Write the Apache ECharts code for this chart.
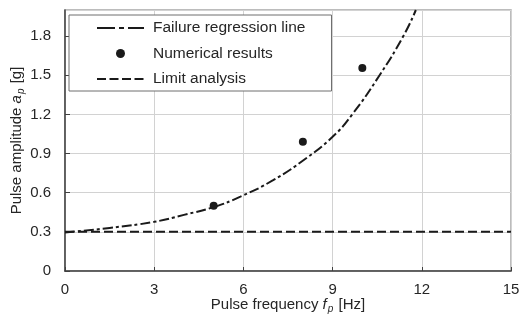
<!DOCTYPE html>
<html>
<head>
<meta charset="utf-8">
<script src="https://cdn.jsdelivr.net/npm/echarts@6/dist/echarts.min.js"></script>
<style>
  html, body { margin: 0; padding: 0; background: #fff; }
  #main { width: 521px; height: 318px; }
</style>
</head>
<body>
<div id="main"></div>
<script>
// values
var regressionFreq = [0, 1.5, 3, 4, 5, 5.9, 7, 8.1, 9, 9.66, 10.58, 11.38, 11.8]
var regressionAmp = [0.295, 0.33, 0.377, 0.43, 0.49, 0.57, 0.696, 0.862, 1.028, 1.2, 1.5, 1.8, 2.0]
var numericalFreq = [5, 8, 10]
var numericalAmp = [0.5, 0.99, 1.556]
var limitFreq = [0, 15]
var limitAmp = [0.3, 0.3]
var seriesNames = ['Failure regression line', 'Numerical results', 'Limit analysis']

function pairs(xs, ys) {
  return xs.map(function (x, i) { return [x, ys[i]] })
}

var font = 'Liberation Sans, Arial, sans-serif'
var textColor = '#262626'
var axisColor = '#404040'
var markColor = '#1a1a1a'

var nameRich = {
  n: { fontSize: 15, color: textColor, fontFamily: font, lineHeight: 18 },
  i: { fontSize: 15, color: textColor, fontFamily: font, fontStyle: 'italic', lineHeight: 18 },
  s: { fontSize: 10, color: textColor, fontFamily: font, fontStyle: 'italic', verticalAlign: 'bottom', padding: [0, 1, 0, 1] }
}

var chart = echarts.init(document.getElementById('main'), null, { renderer: 'canvas' })

var option = {
  backgroundColor: '#fff',
  animation: false,
  textStyle: { fontFamily: font },
  grid: {
    left: 65, right: 10, top: 10, bottom: 47,
    outerBoundsMode: 'none',
    containLabel: false,
    show: true, borderColor: '#a6a6a6', borderWidth: 1.5
  },
  legend: {
    left: 69, top: 15,
    orient: 'vertical',
    backgroundColor: '#fff',
    borderColor: '#6e6e6e',
    borderWidth: 1,
    borderRadius: 0,
    padding: [5, 26, 4, 27],
    itemWidth: 47,
    itemHeight: 14,
    itemGap: 9.5,
    textStyle: { fontSize: 15.5, color: textColor, fontFamily: font, padding: [0, 0, 0, 4] },
    data: [
      { name: seriesNames[0], itemStyle: { opacity: 0 }, lineStyle: { type: [18, 4, 5, 4], width: 2 } },
      { name: seriesNames[1], icon: 'path://M0,0M47,14M28,7a4.5,4.5 0 1,0 -9,0a4.5,4.5 0 1,0 9,0z', itemStyle: { color: markColor, opacity: 1 } },
      { name: seriesNames[2], itemStyle: { opacity: 0 }, lineStyle: { type: [9, 3.5], width: 2 } }
    ]
  },
  xAxis: {
    type: 'value',
    min: 0, max: 15, interval: 3,
    name: '{n|Pulse frequency }{i|f}{s|p}{n| [Hz]}',
    nameLocation: 'middle',
    nameGap: 25,
    nameMoveOverlap: false,
    nameTextStyle: { rich: nameRich },
    axisLine: { lineStyle: { color: axisColor, width: 1.5 } },
    axisTick: { inside: true, length: 4, lineStyle: { color: axisColor } },
    axisLabel: { fontSize: 15, color: textColor, margin: 11, fontFamily: font },
    splitLine: { show: true, lineStyle: { color: '#d2d2d2', width: 1 } }
  },
  yAxis: {
    type: 'value',
    min: 0, max: 2.0, interval: 0.3,
    name: '{n|Pulse amplitude }{i|a}{s|p}{n| [g]}',
    nameLocation: 'middle',
    nameRotate: 90,
    nameGap: 39,
    nameMoveOverlap: false,
    nameTextStyle: { rich: nameRich },
    axisLine: { show: true, lineStyle: { color: axisColor, width: 1.5 } },
    axisTick: { show: true, inside: true, length: 5, lineStyle: { color: axisColor } },
    axisLabel: {
      fontSize: 15, color: textColor, margin: 14, fontFamily: font,
      showMaxLabel: false,
      formatter: function (v) { return v === 0 ? '0' : v.toFixed(1) }
    },
    splitLine: { show: true, lineStyle: { color: '#d2d2d2', width: 1 } }
  },
  series: [
    {
      name: seriesNames[0],
      type: 'line',
      smooth: 0.5,
      symbol: 'none',
      clip: true,
      lineStyle: { color: markColor, width: 2, type: [10, 3, 3, 3] },
      itemStyle: { color: markColor },
      data: pairs(regressionFreq, regressionAmp),
      z: 3
    },
    {
      name: seriesNames[1],
      type: 'scatter',
      symbol: 'circle',
      symbolSize: 8,
      itemStyle: { color: markColor, opacity: 1 },
      data: pairs(numericalFreq, numericalAmp),
      z: 4
    },
    {
      name: seriesNames[2],
      type: 'line',
      symbol: 'none',
      lineStyle: { color: markColor, width: 2, type: [9, 4] },
      itemStyle: { color: markColor },
      data: pairs(limitFreq, limitAmp),
      z: 3
    }
  ]
}

chart.setOption(option)
</script>
</body>
</html>
